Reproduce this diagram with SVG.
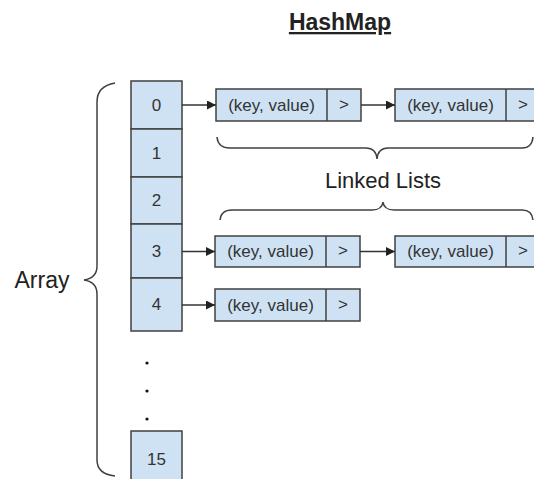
<svg xmlns="http://www.w3.org/2000/svg" width="534" height="479" viewBox="0 0 534 479">
<style>
.cell{fill:#cfe2f3;stroke:#404040;stroke-width:1.5}
.t{font-family:"Liberation Sans",Arial,sans-serif;font-size:17px;fill:#333;text-anchor:middle;dominant-baseline:central}
.big{font-family:"Liberation Sans",Arial,sans-serif;font-size:22px;fill:#222;text-anchor:middle}
.br{fill:none;stroke:#404040;stroke-width:1.5}
.con{stroke:#333;stroke-width:1.5;fill:none}
</style>
<defs>
<marker id="ah" viewBox="0 0 10 10" refX="10" refY="5" markerWidth="10" markerHeight="9" markerUnits="userSpaceOnUse" orient="auto">
<path d="M0,0 L10,5 L0,10 z" fill="#222"/>
</marker>
</defs>
<rect width="534" height="479" fill="#fff"/>
<g id="title">
<text x="340" y="30" class="big" style="font-size:23px;font-weight:bold" text-decoration="underline">HashMap</text>
</g>
<g id="array-label">
<text x="42" y="288" class="big" style="font-size:23px">Array</text>
<path class="br" d="M115,83 Q97,86 97,102 L97,266 Q97,278 84,280 Q97,282 97,294 L97,460 Q97,474 115,476"/>
</g>
<g id="array">
<g id="cell0"><rect class="cell" x="131" y="81" width="51" height="48"/><text class="t" x="156.5" y="105">0</text></g>
<g id="cell1"><rect class="cell" x="131" y="129" width="51" height="48"/><text class="t" x="156.5" y="153">1</text></g>
<g id="cell2"><rect class="cell" x="131" y="177" width="51" height="47"/><text class="t" x="156.5" y="200.5">2</text></g>
<g id="cell3"><rect class="cell" x="131" y="224" width="51" height="54"/><text class="t" x="156.5" y="251">3</text></g>
<g id="cell4"><rect class="cell" x="131" y="278" width="51" height="53"/><text class="t" x="156.5" y="304.5">4</text></g>
<g id="dots" fill="#111"><circle cx="147" cy="363" r="1.6"/><circle cx="147" cy="391" r="1.6"/><circle cx="147" cy="419" r="1.6"/></g>
<g id="cell15"><rect class="cell" x="131" y="431" width="51" height="60"/><text class="t" x="156.5" y="459">15</text></g>
</g>
<g id="node0a"><rect class="cell" x="216" y="89" width="145" height="32"/><line class="cell" x1="327" y1="89" x2="327" y2="121"/><text class="t" x="271.5" y="105">(key, value)</text><text class="t" x="344" y="104">&gt;</text></g>
<g id="node0b"><rect class="cell" x="395" y="89" width="145" height="32"/><line class="cell" x1="506" y1="89" x2="506" y2="121"/><text class="t" x="450.5" y="105">(key, value)</text><text class="t" x="523" y="104">&gt;</text></g>
<g id="node3a"><rect class="cell" x="215" y="236" width="145" height="31"/><line class="cell" x1="326" y1="236" x2="326" y2="267"/><text class="t" x="270.5" y="251.5">(key, value)</text><text class="t" x="343" y="250.5">&gt;</text></g>
<g id="node3b"><rect class="cell" x="395" y="236" width="145" height="31"/><line class="cell" x1="506" y1="236" x2="506" y2="267"/><text class="t" x="450.5" y="251.5">(key, value)</text><text class="t" x="523" y="250.5">&gt;</text></g>
<g id="node4a"><rect class="cell" x="215" y="289" width="145" height="32"/><line class="cell" x1="326" y1="289" x2="326" y2="321"/><text class="t" x="270.5" y="305">(key, value)</text><text class="t" x="343" y="304">&gt;</text></g>
<g id="linked-lists-label">
<path class="br" d="M217,137 Q218,148 230,148 L366,148 Q376,148 377,159 Q378,148 388,148 L522,148 Q532,148 533,137"/>
<text x="383" y="188" class="big">Linked Lists</text>
<path class="br" d="M220,220 Q221,210 232,210 L372,210 Q382,210 383,202 Q384,210 394,210 L522,210 Q532,210 533,220"/>
</g>
<g id="connectors">
<line class="con" x1="182" y1="105" x2="216" y2="105" marker-end="url(#ah)"/>
<line class="con" x1="361" y1="105" x2="395" y2="105" marker-end="url(#ah)"/>
<line class="con" x1="182" y1="251.5" x2="215" y2="251.5" marker-end="url(#ah)"/>
<line class="con" x1="360" y1="251.5" x2="395" y2="251.5" marker-end="url(#ah)"/>
<line class="con" x1="182" y1="305" x2="215" y2="305" marker-end="url(#ah)"/>
</g>
</svg>
